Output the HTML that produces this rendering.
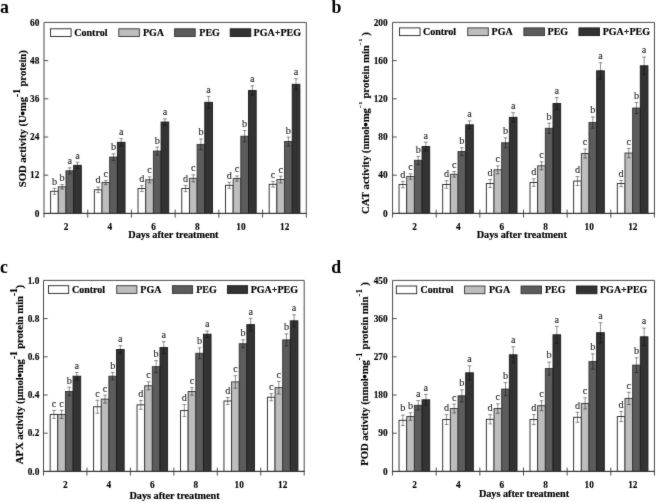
<!DOCTYPE html>
<html><head><meta charset="utf-8"><title>Figure</title>
<style>
html,body{margin:0;padding:0;background:#fff;}
body{width:656px;height:503px;overflow:hidden;}
svg{display:block;will-change:transform;}
text{font-family:"Liberation Serif",serif;fill:#000;}
.b{font-weight:bold;font-size:10px;stroke:#000;stroke-width:0.18px;}
.tk{font-weight:bold;font-size:9.3px;stroke:#000;stroke-width:0.12px;}
.yt{font-weight:bold;font-size:10.8px;stroke:#000;stroke-width:0.15px;}
.pl{font-weight:bold;font-size:17.8px;fill:#000;}
.lt{font-size:10.2px;text-anchor:middle;fill:#1c1c1c;stroke:#1c1c1c;stroke-width:0.1px;}
</style></head><body>
<svg width="656" height="503" viewBox="0 0 656 503">
<defs><filter id="sf" filterUnits="userSpaceOnUse" x="-10" y="-10" width="676" height="523" color-interpolation-filters="sRGB"><feConvolveMatrix order="3" kernelMatrix="1 2 1 2 28 2 1 2 1" divisor="40" edgeMode="duplicate" preserveAlpha="true"/></filter></defs>
<rect x="0" y="0" width="656" height="503" fill="#ffffff"/>
<g filter="url(#sf)">
<rect x="-10" y="-10" width="676" height="523" fill="#ffffff"/>
<g transform="translate(0,0)">
<rect x="50.6" y="191.3" width="7.68" height="22.1" fill="#ffffff" stroke="#222222" stroke-width="0.9"/>
<rect x="58.28" y="186.8" width="7.68" height="26.6" fill="#bdbdbd" stroke="#333333" stroke-width="0.9"/>
<rect x="65.96" y="170.8" width="7.68" height="42.6" fill="#5c5c5c" stroke="#333333" stroke-width="0.9"/>
<rect x="73.64" y="165.3" width="7.68" height="48.1" fill="#333333" stroke="#1a1a1a" stroke-width="0.9"/>
<path d="M54.44 188.3V194.3M52.54 188.3H56.34M52.54 194.3H56.34" stroke="#000" stroke-width="0.85" stroke-opacity="0.5" fill="none"/>
<text class="lt" x="54.44" y="184.7">b</text>
<path d="M62.12 184.55V189.05M60.22 184.55H64.02M60.22 189.05H64.02" stroke="#000" stroke-width="0.85" stroke-opacity="0.5" fill="none"/>
<text class="lt" x="62.12" y="180.95">b</text>
<path d="M69.8 167.8V173.8M67.9 167.8H71.7M67.9 173.8H71.7" stroke="#000" stroke-width="0.85" stroke-opacity="0.5" fill="none"/>
<text class="lt" x="69.8" y="164.2">a</text>
<path d="M77.48 162.2V168.4M75.58 162.2H79.38M75.58 168.4H79.38" stroke="#000" stroke-width="0.85" stroke-opacity="0.5" fill="none"/>
<text class="lt" x="77.48" y="158.6">a</text>
<rect x="94.32" y="189.8" width="7.68" height="23.6" fill="#ffffff" stroke="#222222" stroke-width="0.9"/>
<rect x="102" y="182.55" width="7.68" height="30.85" fill="#bdbdbd" stroke="#333333" stroke-width="0.9"/>
<rect x="109.67" y="157.05" width="7.68" height="56.35" fill="#5c5c5c" stroke="#333333" stroke-width="0.9"/>
<rect x="117.35" y="142.3" width="7.68" height="71.1" fill="#333333" stroke="#1a1a1a" stroke-width="0.9"/>
<path d="M98.16 187.05V192.55M96.26 187.05H100.06M96.26 192.55H100.06" stroke="#000" stroke-width="0.85" stroke-opacity="0.5" fill="none"/>
<text class="lt" x="98.16" y="183.45">d</text>
<path d="M105.84 180.45V184.65M103.94 180.45H107.74M103.94 184.65H107.74" stroke="#000" stroke-width="0.85" stroke-opacity="0.5" fill="none"/>
<text class="lt" x="105.84" y="176.85">c</text>
<path d="M113.51 153.8V160.3M111.61 153.8H115.41M111.61 160.3H115.41" stroke="#000" stroke-width="0.85" stroke-opacity="0.5" fill="none"/>
<text class="lt" x="113.51" y="150.2">b</text>
<path d="M121.19 138.7V145.9M119.29 138.7H123.09M119.29 145.9H123.09" stroke="#000" stroke-width="0.85" stroke-opacity="0.5" fill="none"/>
<text class="lt" x="121.19" y="135.1">a</text>
<rect x="138.03" y="188.55" width="7.68" height="24.85" fill="#ffffff" stroke="#222222" stroke-width="0.9"/>
<rect x="145.71" y="179.8" width="7.68" height="33.6" fill="#bdbdbd" stroke="#333333" stroke-width="0.9"/>
<rect x="153.39" y="151.05" width="7.68" height="62.35" fill="#5c5c5c" stroke="#333333" stroke-width="0.9"/>
<rect x="161.07" y="122.05" width="7.68" height="91.35" fill="#333333" stroke="#1a1a1a" stroke-width="0.9"/>
<path d="M141.87 185.65V191.45M139.97 185.65H143.77M139.97 191.45H143.77" stroke="#000" stroke-width="0.85" stroke-opacity="0.5" fill="none"/>
<text class="lt" x="141.87" y="182.05">d</text>
<path d="M149.55 176.8V182.8M147.65 176.8H151.45M147.65 182.8H151.45" stroke="#000" stroke-width="0.85" stroke-opacity="0.5" fill="none"/>
<text class="lt" x="149.55" y="173.2">c</text>
<path d="M157.23 147.15V154.95M155.33 147.15H159.13M155.33 154.95H159.13" stroke="#000" stroke-width="0.85" stroke-opacity="0.5" fill="none"/>
<text class="lt" x="157.23" y="143.55">b</text>
<path d="M164.91 118.8V125.3M163.01 118.8H166.81M163.01 125.3H166.81" stroke="#000" stroke-width="0.85" stroke-opacity="0.5" fill="none"/>
<text class="lt" x="164.91" y="115.2">a</text>
<rect x="181.75" y="188.55" width="7.68" height="24.85" fill="#ffffff" stroke="#222222" stroke-width="0.9"/>
<rect x="189.43" y="178.3" width="7.68" height="35.1" fill="#bdbdbd" stroke="#333333" stroke-width="0.9"/>
<rect x="197.11" y="144.4" width="7.68" height="69" fill="#5c5c5c" stroke="#333333" stroke-width="0.9"/>
<rect x="204.79" y="102.3" width="7.68" height="111.1" fill="#333333" stroke="#1a1a1a" stroke-width="0.9"/>
<path d="M185.59 185.45V191.65M183.69 185.45H187.49M183.69 191.65H187.49" stroke="#000" stroke-width="0.85" stroke-opacity="0.5" fill="none"/>
<text class="lt" x="185.59" y="181.85">d</text>
<path d="M193.27 174.8V181.8M191.37 174.8H195.17M191.37 181.8H195.17" stroke="#000" stroke-width="0.85" stroke-opacity="0.5" fill="none"/>
<text class="lt" x="193.27" y="171.2">c</text>
<path d="M200.95 139V149.8M199.05 139H202.85M199.05 149.8H202.85" stroke="#000" stroke-width="0.85" stroke-opacity="0.5" fill="none"/>
<text class="lt" x="200.95" y="135.4">b</text>
<path d="M208.63 96.4V108.2M206.73 96.4H210.53M206.73 108.2H210.53" stroke="#000" stroke-width="0.85" stroke-opacity="0.5" fill="none"/>
<text class="lt" x="208.63" y="92.8">a</text>
<rect x="225.47" y="185.3" width="7.68" height="28.1" fill="#ffffff" stroke="#222222" stroke-width="0.9"/>
<rect x="233.15" y="178.55" width="7.68" height="34.85" fill="#bdbdbd" stroke="#333333" stroke-width="0.9"/>
<rect x="240.83" y="136.2" width="7.68" height="77.2" fill="#5c5c5c" stroke="#333333" stroke-width="0.9"/>
<rect x="248.5" y="90.55" width="7.68" height="122.85" fill="#333333" stroke="#1a1a1a" stroke-width="0.9"/>
<path d="M229.31 182.3V188.3M227.41 182.3H231.21M227.41 188.3H231.21" stroke="#000" stroke-width="0.85" stroke-opacity="0.5" fill="none"/>
<text class="lt" x="229.31" y="178.7">d</text>
<path d="M236.99 175.95V181.15M235.09 175.95H238.89M235.09 181.15H238.89" stroke="#000" stroke-width="0.85" stroke-opacity="0.5" fill="none"/>
<text class="lt" x="236.99" y="172.35">c</text>
<path d="M244.66 130.5V141.9M242.76 130.5H246.56M242.76 141.9H246.56" stroke="#000" stroke-width="0.85" stroke-opacity="0.5" fill="none"/>
<text class="lt" x="244.66" y="126.9">b</text>
<path d="M252.34 85.8V95.3M250.44 85.8H254.24M250.44 95.3H254.24" stroke="#000" stroke-width="0.85" stroke-opacity="0.5" fill="none"/>
<text class="lt" x="252.34" y="82.2">a</text>
<rect x="269.18" y="184.3" width="7.68" height="29.1" fill="#ffffff" stroke="#222222" stroke-width="0.9"/>
<rect x="276.86" y="179.55" width="7.68" height="33.85" fill="#bdbdbd" stroke="#333333" stroke-width="0.9"/>
<rect x="284.54" y="141.55" width="7.68" height="71.85" fill="#5c5c5c" stroke="#333333" stroke-width="0.9"/>
<rect x="292.22" y="84.3" width="7.68" height="129.1" fill="#333333" stroke="#1a1a1a" stroke-width="0.9"/>
<path d="M273.02 181.4V187.2M271.12 181.4H274.92M271.12 187.2H274.92" stroke="#000" stroke-width="0.85" stroke-opacity="0.5" fill="none"/>
<text class="lt" x="273.02" y="177.8">c</text>
<path d="M280.7 176.15V182.95M278.8 176.15H282.6M278.8 182.95H282.6" stroke="#000" stroke-width="0.85" stroke-opacity="0.5" fill="none"/>
<text class="lt" x="280.7" y="172.55">c</text>
<path d="M288.38 137.15V145.95M286.48 137.15H290.28M286.48 145.95H290.28" stroke="#000" stroke-width="0.85" stroke-opacity="0.5" fill="none"/>
<text class="lt" x="288.38" y="133.55">b</text>
<path d="M296.06 78.7V89.9M294.16 78.7H297.96M294.16 89.9H297.96" stroke="#000" stroke-width="0.85" stroke-opacity="0.5" fill="none"/>
<text class="lt" x="296.06" y="75.1">a</text>
<path d="M44 22.4H306.3V213.4H44Z" fill="none" stroke="#4a4a4a" stroke-width="1"/>
<path d="M43.5 213.4H306.8" fill="none" stroke="#333" stroke-width="1"/>
<path d="M44 213.4V217.6M87.72 209.6V217.6M131.43 209.6V217.6M175.15 209.6V217.6M218.87 209.6V217.6M262.58 209.6V217.6M306.3 213.4V217.6M44 175.2H48.2M44 137H48.2M44 98.8H48.2M44 60.6H48.2" fill="none" stroke="#3a3a3a" stroke-width="0.9"/>
<text class="tk" text-anchor="end" x="39.4" y="216.65">0</text>
<text class="tk" text-anchor="end" x="39.4" y="178.45">12</text>
<text class="tk" text-anchor="end" x="39.4" y="140.25">24</text>
<text class="tk" text-anchor="end" x="39.4" y="102.05">36</text>
<text class="tk" text-anchor="end" x="39.4" y="63.85">48</text>
<text class="tk" text-anchor="end" x="39.4" y="25.65">60</text>
<text class="tk" text-anchor="middle" x="66.06" y="229.6">2</text>
<text class="tk" text-anchor="middle" x="109.78" y="229.6">4</text>
<text class="tk" text-anchor="middle" x="153.49" y="229.6">6</text>
<text class="tk" text-anchor="middle" x="197.21" y="229.6">8</text>
<text class="tk" text-anchor="middle" x="240.93" y="229.6">10</text>
<text class="tk" text-anchor="middle" x="284.64" y="229.6">12</text>
<text class="b" style="font-size:10.2px" text-anchor="middle" x="173.4" y="237.5">Days after treatment</text>
<rect x="50.5" y="28.8" width="20.6" height="7.7" fill="#ffffff" stroke="#222222" stroke-width="0.9"/>
<text class="b" x="74.3" y="35.9">Control</text>
<rect x="118.8" y="28.8" width="20.6" height="7.7" fill="#bdbdbd" stroke="#333333" stroke-width="0.9"/>
<text class="b" x="142.9" y="35.9">PGA</text>
<rect x="174.6" y="28.8" width="20.6" height="7.7" fill="#5c5c5c" stroke="#333333" stroke-width="0.9"/>
<text class="b" x="199.3" y="35.9">PEG</text>
<rect x="230.2" y="28.8" width="20.6" height="7.7" fill="#333333" stroke="#1a1a1a" stroke-width="0.9"/>
<text class="b" x="253.6" y="35.9">PGA+PEG</text>
<text class="pl" x="-0.1" y="12.8">a</text>
<text class="yt" text-anchor="middle" textLength="137.2" lengthAdjust="spacing" transform="translate(26,118.7) rotate(-90)"><tspan dy="-0">SOD activity (U</tspan><tspan dy="1.05" dx="-0.5" style="font-size:13.5px">•</tspan><tspan dx="-0.5" dy="0"></tspan><tspan dy="-1.05">mg</tspan><tspan dy="-6.2" style="font-size:9.5px;letter-spacing:0px">-1</tspan><tspan dy="6.2"> protein)</tspan></text>
</g>
<g transform="translate(348.7,0)">
<rect x="50.34" y="184.55" width="7.67" height="28.85" fill="#ffffff" stroke="#222222" stroke-width="0.9"/>
<rect x="58.01" y="176.55" width="7.67" height="36.85" fill="#bdbdbd" stroke="#333333" stroke-width="0.9"/>
<rect x="65.67" y="160.3" width="7.67" height="53.1" fill="#5c5c5c" stroke="#333333" stroke-width="0.9"/>
<rect x="73.34" y="146.55" width="7.67" height="66.85" fill="#333333" stroke="#1a1a1a" stroke-width="0.9"/>
<path d="M54.17 181.3V187.8M52.27 181.3H56.07M52.27 187.8H56.07" stroke="#000" stroke-width="0.85" stroke-opacity="0.5" fill="none"/>
<text class="lt" x="54.17" y="177.7">d</text>
<path d="M61.84 173.8V179.3M59.94 173.8H63.74M59.94 179.3H63.74" stroke="#000" stroke-width="0.85" stroke-opacity="0.5" fill="none"/>
<text class="lt" x="61.84" y="170.2">c</text>
<path d="M69.51 156.3V164.3M67.61 156.3H71.41M67.61 164.3H71.41" stroke="#000" stroke-width="0.85" stroke-opacity="0.5" fill="none"/>
<text class="lt" x="69.51" y="152.7">b</text>
<path d="M77.18 142.15V150.95M75.28 142.15H79.08M75.28 150.95H79.08" stroke="#000" stroke-width="0.85" stroke-opacity="0.5" fill="none"/>
<text class="lt" x="77.18" y="138.55">a</text>
<rect x="93.99" y="184.5" width="7.67" height="28.9" fill="#ffffff" stroke="#222222" stroke-width="0.9"/>
<rect x="101.66" y="174.3" width="7.67" height="39.1" fill="#bdbdbd" stroke="#333333" stroke-width="0.9"/>
<rect x="109.32" y="151.55" width="7.67" height="61.85" fill="#5c5c5c" stroke="#333333" stroke-width="0.9"/>
<rect x="116.99" y="124.8" width="7.67" height="88.6" fill="#333333" stroke="#1a1a1a" stroke-width="0.9"/>
<path d="M97.82 180.75V188.25M95.92 180.75H99.72M95.92 188.25H99.72" stroke="#000" stroke-width="0.85" stroke-opacity="0.5" fill="none"/>
<text class="lt" x="97.82" y="177.15">d</text>
<path d="M105.49 171.55V177.05M103.59 171.55H107.39M103.59 177.05H107.39" stroke="#000" stroke-width="0.85" stroke-opacity="0.5" fill="none"/>
<text class="lt" x="105.49" y="167.95">c</text>
<path d="M113.16 147.65V155.45M111.26 147.65H115.06M111.26 155.45H115.06" stroke="#000" stroke-width="0.85" stroke-opacity="0.5" fill="none"/>
<text class="lt" x="113.16" y="144.05">b</text>
<path d="M120.83 120.9V128.7M118.93 120.9H122.73M118.93 128.7H122.73" stroke="#000" stroke-width="0.85" stroke-opacity="0.5" fill="none"/>
<text class="lt" x="120.83" y="117.3">a</text>
<rect x="137.64" y="183.55" width="7.67" height="29.85" fill="#ffffff" stroke="#222222" stroke-width="0.9"/>
<rect x="145.31" y="169.8" width="7.67" height="43.6" fill="#bdbdbd" stroke="#333333" stroke-width="0.9"/>
<rect x="152.97" y="142.8" width="7.67" height="70.6" fill="#5c5c5c" stroke="#333333" stroke-width="0.9"/>
<rect x="160.64" y="117.3" width="7.67" height="96.1" fill="#333333" stroke="#1a1a1a" stroke-width="0.9"/>
<path d="M141.47 179.55V187.55M139.57 179.55H143.37M139.57 187.55H143.37" stroke="#000" stroke-width="0.85" stroke-opacity="0.5" fill="none"/>
<text class="lt" x="141.47" y="175.95">d</text>
<path d="M149.14 165.8V173.8M147.24 165.8H151.04M147.24 173.8H151.04" stroke="#000" stroke-width="0.85" stroke-opacity="0.5" fill="none"/>
<text class="lt" x="149.14" y="162.2">c</text>
<path d="M156.81 137.8V147.8M154.91 137.8H158.71M154.91 147.8H158.71" stroke="#000" stroke-width="0.85" stroke-opacity="0.5" fill="none"/>
<text class="lt" x="156.81" y="134.2">b</text>
<path d="M164.48 112.7V121.9M162.58 112.7H166.38M162.58 121.9H166.38" stroke="#000" stroke-width="0.85" stroke-opacity="0.5" fill="none"/>
<text class="lt" x="164.48" y="109.1">a</text>
<rect x="181.29" y="182.55" width="7.67" height="30.85" fill="#ffffff" stroke="#222222" stroke-width="0.9"/>
<rect x="188.96" y="165.8" width="7.67" height="47.6" fill="#bdbdbd" stroke="#333333" stroke-width="0.9"/>
<rect x="196.62" y="128.3" width="7.67" height="85.1" fill="#5c5c5c" stroke="#333333" stroke-width="0.9"/>
<rect x="204.29" y="103.55" width="7.67" height="109.85" fill="#333333" stroke="#1a1a1a" stroke-width="0.9"/>
<path d="M185.12 178.8V186.3M183.22 178.8H187.02M183.22 186.3H187.02" stroke="#000" stroke-width="0.85" stroke-opacity="0.5" fill="none"/>
<text class="lt" x="185.12" y="175.2">d</text>
<path d="M192.79 161.8V169.8M190.89 161.8H194.69M190.89 169.8H194.69" stroke="#000" stroke-width="0.85" stroke-opacity="0.5" fill="none"/>
<text class="lt" x="192.79" y="158.2">c</text>
<path d="M200.46 123.2V133.4M198.56 123.2H202.36M198.56 133.4H202.36" stroke="#000" stroke-width="0.85" stroke-opacity="0.5" fill="none"/>
<text class="lt" x="200.46" y="119.6">b</text>
<path d="M208.13 97.55V109.55M206.23 97.55H210.03M206.23 109.55H210.03" stroke="#000" stroke-width="0.85" stroke-opacity="0.5" fill="none"/>
<text class="lt" x="208.13" y="93.95">a</text>
<rect x="224.94" y="181.05" width="7.67" height="32.35" fill="#ffffff" stroke="#222222" stroke-width="0.9"/>
<rect x="232.61" y="153.55" width="7.67" height="59.85" fill="#bdbdbd" stroke="#333333" stroke-width="0.9"/>
<rect x="240.27" y="122.55" width="7.67" height="90.85" fill="#5c5c5c" stroke="#333333" stroke-width="0.9"/>
<rect x="247.94" y="70.8" width="7.67" height="142.6" fill="#333333" stroke="#1a1a1a" stroke-width="0.9"/>
<path d="M228.77 176.55V185.55M226.87 176.55H230.67M226.87 185.55H230.67" stroke="#000" stroke-width="0.85" stroke-opacity="0.5" fill="none"/>
<text class="lt" x="228.77" y="172.95">d</text>
<path d="M236.44 148.95V158.15M234.54 148.95H238.34M234.54 158.15H238.34" stroke="#000" stroke-width="0.85" stroke-opacity="0.5" fill="none"/>
<text class="lt" x="236.44" y="145.35">c</text>
<path d="M244.11 116.95V128.15M242.21 116.95H246.01M242.21 128.15H246.01" stroke="#000" stroke-width="0.85" stroke-opacity="0.5" fill="none"/>
<text class="lt" x="244.11" y="113.35">b</text>
<path d="M251.78 62.7V78.9M249.88 62.7H253.68M249.88 78.9H253.68" stroke="#000" stroke-width="0.85" stroke-opacity="0.5" fill="none"/>
<text class="lt" x="251.78" y="59.1">a</text>
<rect x="268.59" y="183.55" width="7.67" height="29.85" fill="#ffffff" stroke="#222222" stroke-width="0.9"/>
<rect x="276.26" y="153.05" width="7.67" height="60.35" fill="#bdbdbd" stroke="#333333" stroke-width="0.9"/>
<rect x="283.93" y="108.05" width="7.67" height="105.35" fill="#5c5c5c" stroke="#333333" stroke-width="0.9"/>
<rect x="291.59" y="65.8" width="7.67" height="147.6" fill="#333333" stroke="#1a1a1a" stroke-width="0.9"/>
<path d="M272.42 180.45V186.65M270.52 180.45H274.32M270.52 186.65H274.32" stroke="#000" stroke-width="0.85" stroke-opacity="0.5" fill="none"/>
<text class="lt" x="272.42" y="176.85">d</text>
<path d="M280.09 148.45V157.65M278.19 148.45H281.99M278.19 157.65H281.99" stroke="#000" stroke-width="0.85" stroke-opacity="0.5" fill="none"/>
<text class="lt" x="280.09" y="144.85">c</text>
<path d="M287.76 102.55V113.55M285.86 102.55H289.66M285.86 113.55H289.66" stroke="#000" stroke-width="0.85" stroke-opacity="0.5" fill="none"/>
<text class="lt" x="287.76" y="98.95">b</text>
<path d="M295.43 57.05V74.55M293.53 57.05H297.33M293.53 74.55H297.33" stroke="#000" stroke-width="0.85" stroke-opacity="0.5" fill="none"/>
<text class="lt" x="295.43" y="53.45">a</text>
<path d="M43.85 22.4H305.75V213.4H43.85Z" fill="none" stroke="#4a4a4a" stroke-width="1"/>
<path d="M43.35 213.4H306.25" fill="none" stroke="#333" stroke-width="1"/>
<path d="M43.85 213.4V217.6M87.5 209.6V217.6M131.15 209.6V217.6M174.8 209.6V217.6M218.45 209.6V217.6M262.1 209.6V217.6M305.75 213.4V217.6M43.85 175.2H48.05M43.85 137H48.05M43.85 98.8H48.05M43.85 60.6H48.05" fill="none" stroke="#3a3a3a" stroke-width="0.9"/>
<text class="tk" text-anchor="end" x="38.9" y="216.65">0</text>
<text class="tk" text-anchor="end" x="38.9" y="178.45">40</text>
<text class="tk" text-anchor="end" x="38.9" y="140.25">80</text>
<text class="tk" text-anchor="end" x="38.9" y="102.05">120</text>
<text class="tk" text-anchor="end" x="38.9" y="63.85">160</text>
<text class="tk" text-anchor="end" x="38.9" y="25.65">200</text>
<text class="tk" text-anchor="middle" x="65.88" y="229.6">2</text>
<text class="tk" text-anchor="middle" x="109.52" y="229.6">4</text>
<text class="tk" text-anchor="middle" x="153.17" y="229.6">6</text>
<text class="tk" text-anchor="middle" x="196.82" y="229.6">8</text>
<text class="tk" text-anchor="middle" x="240.47" y="229.6">10</text>
<text class="tk" text-anchor="middle" x="284.12" y="229.6">12</text>
<text class="b" style="font-size:10.2px" text-anchor="middle" x="173.1" y="238">Days after treatment</text>
<rect x="50.75" y="27.9" width="20.6" height="7.7" fill="#ffffff" stroke="#222222" stroke-width="0.9"/>
<text class="b" x="74.3" y="35">Control</text>
<rect x="119" y="27.9" width="20.6" height="7.7" fill="#bdbdbd" stroke="#333333" stroke-width="0.9"/>
<text class="b" x="142.9" y="35">PGA</text>
<rect x="175.2" y="27.9" width="20.6" height="7.7" fill="#5c5c5c" stroke="#333333" stroke-width="0.9"/>
<text class="b" x="198.9" y="35">PEG</text>
<rect x="230.25" y="27.9" width="20.6" height="7.7" fill="#333333" stroke="#1a1a1a" stroke-width="0.9"/>
<text class="b" x="254" y="35">PGA+PEG</text>
<text class="pl" x="-17.3" y="12.8">b</text>
<text class="yt" text-anchor="middle" textLength="181.8" lengthAdjust="spacing" transform="translate(20.1,123) rotate(-90)"><tspan dy="-0">CAT activity (nmol</tspan><tspan dy="1.05" dx="-0.5" style="font-size:13.5px">•</tspan><tspan dx="-0.5" dy="0"></tspan><tspan dy="-1.05">mg</tspan><tspan dy="-6.6" style="font-size:5px;letter-spacing:0.8px">−1</tspan><tspan dx="2" dy="0"></tspan><tspan dy="6.6"> protein min</tspan><tspan dy="-6.6" style="font-size:5px;letter-spacing:0.8px">−1</tspan><tspan dx="2" dy="0"></tspan><tspan dy="6.6"> )</tspan></text>
</g>
<g transform="translate(0,258)">
<rect x="50.16" y="156.4" width="7.63" height="57" fill="#ffffff" stroke="#222222" stroke-width="0.9"/>
<rect x="57.79" y="156.4" width="7.63" height="57" fill="#bdbdbd" stroke="#333333" stroke-width="0.9"/>
<rect x="65.42" y="133.48" width="7.63" height="79.92" fill="#5c5c5c" stroke="#333333" stroke-width="0.9"/>
<rect x="73.06" y="118.2" width="7.63" height="95.2" fill="#333333" stroke="#1a1a1a" stroke-width="0.9"/>
<path d="M53.98 152.4V160.4M52.08 152.4H55.88M52.08 160.4H55.88" stroke="#000" stroke-width="0.85" stroke-opacity="0.5" fill="none"/>
<text class="lt" x="53.98" y="148.8">c</text>
<path d="M61.61 152.4V160.4M59.71 152.4H63.51M59.71 160.4H63.51" stroke="#000" stroke-width="0.85" stroke-opacity="0.5" fill="none"/>
<text class="lt" x="61.61" y="148.8">c</text>
<path d="M69.24 129.23V137.73M67.34 129.23H71.14M67.34 137.73H71.14" stroke="#000" stroke-width="0.85" stroke-opacity="0.5" fill="none"/>
<text class="lt" x="69.24" y="125.63">b</text>
<path d="M76.87 114.45V121.95M74.97 114.45H78.77M74.97 121.95H78.77" stroke="#000" stroke-width="0.85" stroke-opacity="0.5" fill="none"/>
<text class="lt" x="76.87" y="110.85">a</text>
<rect x="93.61" y="148.76" width="7.63" height="64.64" fill="#ffffff" stroke="#222222" stroke-width="0.9"/>
<rect x="101.24" y="141.12" width="7.63" height="72.28" fill="#bdbdbd" stroke="#333333" stroke-width="0.9"/>
<rect x="108.88" y="118.2" width="7.63" height="95.2" fill="#5c5c5c" stroke="#333333" stroke-width="0.9"/>
<rect x="116.51" y="91.46" width="7.63" height="121.94" fill="#333333" stroke="#1a1a1a" stroke-width="0.9"/>
<path d="M97.43 142.26V155.26M95.53 142.26H99.33M95.53 155.26H99.33" stroke="#000" stroke-width="0.85" stroke-opacity="0.5" fill="none"/>
<text class="lt" x="97.43" y="138.66">c</text>
<path d="M105.06 137.12V145.12M103.16 137.12H106.96M103.16 145.12H106.96" stroke="#000" stroke-width="0.85" stroke-opacity="0.5" fill="none"/>
<text class="lt" x="105.06" y="133.52">c</text>
<path d="M112.69 114.45V121.95M110.79 114.45H114.59M110.79 121.95H114.59" stroke="#000" stroke-width="0.85" stroke-opacity="0.5" fill="none"/>
<text class="lt" x="112.69" y="110.85">b</text>
<path d="M120.32 87.66V95.26M118.42 87.66H122.22M118.42 95.26H122.22" stroke="#000" stroke-width="0.85" stroke-opacity="0.5" fill="none"/>
<text class="lt" x="120.32" y="84.06">a</text>
<rect x="137.06" y="146.85" width="7.63" height="66.55" fill="#ffffff" stroke="#222222" stroke-width="0.9"/>
<rect x="144.69" y="127.75" width="7.63" height="85.65" fill="#bdbdbd" stroke="#333333" stroke-width="0.9"/>
<rect x="152.32" y="108.65" width="7.63" height="104.75" fill="#5c5c5c" stroke="#333333" stroke-width="0.9"/>
<rect x="159.96" y="89.55" width="7.63" height="123.85" fill="#333333" stroke="#1a1a1a" stroke-width="0.9"/>
<path d="M140.88 142.45V151.25M138.98 142.45H142.78M138.98 151.25H142.78" stroke="#000" stroke-width="0.85" stroke-opacity="0.5" fill="none"/>
<text class="lt" x="140.88" y="138.85">d</text>
<path d="M148.51 123.75V131.75M146.61 123.75H150.41M146.61 131.75H150.41" stroke="#000" stroke-width="0.85" stroke-opacity="0.5" fill="none"/>
<text class="lt" x="148.51" y="120.15">c</text>
<path d="M156.14 102.65V114.65M154.24 102.65H158.04M154.24 114.65H158.04" stroke="#000" stroke-width="0.85" stroke-opacity="0.5" fill="none"/>
<text class="lt" x="156.14" y="99.05">b</text>
<path d="M163.77 83.55V95.55M161.87 83.55H165.67M161.87 95.55H165.67" stroke="#000" stroke-width="0.85" stroke-opacity="0.5" fill="none"/>
<text class="lt" x="163.77" y="79.95">a</text>
<rect x="180.51" y="152.58" width="7.63" height="60.82" fill="#ffffff" stroke="#222222" stroke-width="0.9"/>
<rect x="188.14" y="133.48" width="7.63" height="79.92" fill="#bdbdbd" stroke="#333333" stroke-width="0.9"/>
<rect x="195.77" y="95.28" width="7.63" height="118.12" fill="#5c5c5c" stroke="#333333" stroke-width="0.9"/>
<rect x="203.41" y="76.18" width="7.63" height="137.22" fill="#333333" stroke="#1a1a1a" stroke-width="0.9"/>
<path d="M184.33 146.58V158.58M182.43 146.58H186.23M182.43 158.58H186.23" stroke="#000" stroke-width="0.85" stroke-opacity="0.5" fill="none"/>
<text class="lt" x="184.33" y="142.98">d</text>
<path d="M191.96 129.73V137.23M190.06 129.73H193.86M190.06 137.23H193.86" stroke="#000" stroke-width="0.85" stroke-opacity="0.5" fill="none"/>
<text class="lt" x="191.96" y="126.13">c</text>
<path d="M199.59 89.78V100.78M197.69 89.78H201.49M197.69 100.78H201.49" stroke="#000" stroke-width="0.85" stroke-opacity="0.5" fill="none"/>
<text class="lt" x="199.59" y="86.18">b</text>
<path d="M207.22 72.93V79.43M205.32 72.93H209.12M205.32 79.43H209.12" stroke="#000" stroke-width="0.85" stroke-opacity="0.5" fill="none"/>
<text class="lt" x="207.22" y="69.33">a</text>
<rect x="223.96" y="143.03" width="7.63" height="70.37" fill="#ffffff" stroke="#222222" stroke-width="0.9"/>
<rect x="231.59" y="123.93" width="7.63" height="89.47" fill="#bdbdbd" stroke="#333333" stroke-width="0.9"/>
<rect x="239.22" y="85.73" width="7.63" height="127.67" fill="#5c5c5c" stroke="#333333" stroke-width="0.9"/>
<rect x="246.86" y="66.63" width="7.63" height="146.77" fill="#333333" stroke="#1a1a1a" stroke-width="0.9"/>
<path d="M227.78 139.43V146.63M225.88 139.43H229.68M225.88 146.63H229.68" stroke="#000" stroke-width="0.85" stroke-opacity="0.5" fill="none"/>
<text class="lt" x="227.78" y="135.83">d</text>
<path d="M235.41 117.68V130.18M233.51 117.68H237.31M233.51 130.18H237.31" stroke="#000" stroke-width="0.85" stroke-opacity="0.5" fill="none"/>
<text class="lt" x="235.41" y="114.08">c</text>
<path d="M243.04 81.83V89.63M241.14 81.83H244.94M241.14 89.63H244.94" stroke="#000" stroke-width="0.85" stroke-opacity="0.5" fill="none"/>
<text class="lt" x="243.04" y="78.23">b</text>
<path d="M250.67 60.38V72.88M248.77 60.38H252.57M248.77 72.88H252.57" stroke="#000" stroke-width="0.85" stroke-opacity="0.5" fill="none"/>
<text class="lt" x="250.67" y="56.78">a</text>
<rect x="267.41" y="139.21" width="7.63" height="74.19" fill="#ffffff" stroke="#222222" stroke-width="0.9"/>
<rect x="275.04" y="129.66" width="7.63" height="83.74" fill="#bdbdbd" stroke="#333333" stroke-width="0.9"/>
<rect x="282.67" y="81.91" width="7.63" height="131.49" fill="#5c5c5c" stroke="#333333" stroke-width="0.9"/>
<rect x="290.31" y="62.81" width="7.63" height="150.59" fill="#333333" stroke="#1a1a1a" stroke-width="0.9"/>
<path d="M271.23 135.61V142.81M269.33 135.61H273.13M269.33 142.81H273.13" stroke="#000" stroke-width="0.85" stroke-opacity="0.5" fill="none"/>
<text class="lt" x="271.23" y="132.01">c</text>
<path d="M278.86 123.41V135.91M276.96 123.41H280.76M276.96 135.91H280.76" stroke="#000" stroke-width="0.85" stroke-opacity="0.5" fill="none"/>
<text class="lt" x="278.86" y="119.81">c</text>
<path d="M286.49 75.91V87.91M284.59 75.91H288.39M284.59 87.91H288.39" stroke="#000" stroke-width="0.85" stroke-opacity="0.5" fill="none"/>
<text class="lt" x="286.49" y="72.31">b</text>
<path d="M294.12 56.81V68.81M292.22 56.81H296.02M292.22 68.81H296.02" stroke="#000" stroke-width="0.85" stroke-opacity="0.5" fill="none"/>
<text class="lt" x="294.12" y="53.21">a</text>
<path d="M43.5 22.4H304.2V213.4H43.5Z" fill="none" stroke="#4a4a4a" stroke-width="1"/>
<path d="M43 213.4H304.7" fill="none" stroke="#333" stroke-width="1"/>
<path d="M43.5 213.4V217.6M86.95 209.6V217.6M130.4 209.6V217.6M173.85 209.6V217.6M217.3 209.6V217.6M260.75 209.6V217.6M304.2 213.4V217.6M43.5 175.2H47.7M43.5 137H47.7M43.5 98.8H47.7M43.5 60.6H47.7" fill="none" stroke="#3a3a3a" stroke-width="0.9"/>
<text class="tk" text-anchor="end" x="39.3" y="216.65">0.0</text>
<text class="tk" text-anchor="end" x="39.3" y="178.45">0.2</text>
<text class="tk" text-anchor="end" x="39.3" y="140.25">0.4</text>
<text class="tk" text-anchor="end" x="39.3" y="102.05">0.6</text>
<text class="tk" text-anchor="end" x="39.3" y="63.85">0.8</text>
<text class="tk" text-anchor="end" x="39.3" y="25.65">1.0</text>
<text class="tk" text-anchor="middle" x="65.42" y="229.6">2</text>
<text class="tk" text-anchor="middle" x="108.88" y="229.6">4</text>
<text class="tk" text-anchor="middle" x="152.32" y="229.6">6</text>
<text class="tk" text-anchor="middle" x="195.77" y="229.6">8</text>
<text class="tk" text-anchor="middle" x="239.22" y="229.6">10</text>
<text class="tk" text-anchor="middle" x="282.67" y="229.6">12</text>
<text class="b" style="font-size:10.2px" text-anchor="middle" x="174.6" y="241.3">Days after treatment</text>
<rect x="48.5" y="27.7" width="20.2" height="7.7" fill="#ffffff" stroke="#222222" stroke-width="0.9"/>
<text class="b" x="72" y="34.8">Control</text>
<rect x="116.7" y="27.7" width="20.2" height="7.7" fill="#bdbdbd" stroke="#333333" stroke-width="0.9"/>
<text class="b" x="140.3" y="34.8">PGA</text>
<rect x="172.4" y="27.7" width="20.2" height="7.7" fill="#5c5c5c" stroke="#333333" stroke-width="0.9"/>
<text class="b" x="196.2" y="34.8">PEG</text>
<rect x="227.4" y="27.7" width="20.2" height="7.7" fill="#333333" stroke="#1a1a1a" stroke-width="0.9"/>
<text class="b" x="250.7" y="34.8">PGA+PEG</text>
<text class="pl" x="0.1" y="14.9">c</text>
<text class="yt" text-anchor="middle" textLength="179.4" lengthAdjust="spacing" transform="translate(23.2,116.5) rotate(-90)"><tspan dy="-0">APX activity (µmol</tspan><tspan dy="1.05" dx="-0.5" style="font-size:13.5px">•</tspan><tspan dx="-0.5" dy="0"></tspan><tspan dy="-1.05">mg</tspan><tspan dy="-5.75" style="font-size:9.5px;letter-spacing:0px">-1</tspan><tspan dy="5.75"> protein min</tspan><tspan dy="-5.75" style="font-size:9.5px;letter-spacing:0px">-1</tspan><tspan dy="5.75">)</tspan></text>
</g>
<g transform="translate(348.7,258)">
<rect x="50.34" y="162.3" width="7.67" height="51.1" fill="#ffffff" stroke="#222222" stroke-width="0.9"/>
<rect x="58.01" y="158.55" width="7.67" height="54.85" fill="#bdbdbd" stroke="#333333" stroke-width="0.9"/>
<rect x="65.67" y="147.3" width="7.67" height="66.1" fill="#5c5c5c" stroke="#333333" stroke-width="0.9"/>
<rect x="73.34" y="141.8" width="7.67" height="71.6" fill="#333333" stroke="#1a1a1a" stroke-width="0.9"/>
<path d="M54.17 157.05V167.55M52.27 157.05H56.07M52.27 167.55H56.07" stroke="#000" stroke-width="0.85" stroke-opacity="0.5" fill="none"/>
<text class="lt" x="54.17" y="153.45">b</text>
<path d="M61.84 154.8V162.3M59.94 154.8H63.74M59.94 162.3H63.74" stroke="#000" stroke-width="0.85" stroke-opacity="0.5" fill="none"/>
<text class="lt" x="61.84" y="151.2">b</text>
<path d="M69.51 142.55V152.05M67.61 142.55H71.41M67.61 152.05H71.41" stroke="#000" stroke-width="0.85" stroke-opacity="0.5" fill="none"/>
<text class="lt" x="69.51" y="138.95">a</text>
<path d="M77.18 136.4V147.2M75.28 136.4H79.08M75.28 147.2H79.08" stroke="#000" stroke-width="0.85" stroke-opacity="0.5" fill="none"/>
<text class="lt" x="77.18" y="132.8">a</text>
<rect x="93.99" y="161.55" width="7.67" height="51.85" fill="#ffffff" stroke="#222222" stroke-width="0.9"/>
<rect x="101.66" y="150.55" width="7.67" height="62.85" fill="#bdbdbd" stroke="#333333" stroke-width="0.9"/>
<rect x="109.32" y="137.8" width="7.67" height="75.6" fill="#5c5c5c" stroke="#333333" stroke-width="0.9"/>
<rect x="116.99" y="114.8" width="7.67" height="98.6" fill="#333333" stroke="#1a1a1a" stroke-width="0.9"/>
<path d="M97.82 156.55V166.55M95.92 156.55H99.72M95.92 166.55H99.72" stroke="#000" stroke-width="0.85" stroke-opacity="0.5" fill="none"/>
<text class="lt" x="97.82" y="152.95">d</text>
<path d="M105.49 146.15V154.95M103.59 146.15H107.39M103.59 154.95H107.39" stroke="#000" stroke-width="0.85" stroke-opacity="0.5" fill="none"/>
<text class="lt" x="105.49" y="142.55">c</text>
<path d="M113.16 131.8V143.8M111.26 131.8H115.06M111.26 143.8H115.06" stroke="#000" stroke-width="0.85" stroke-opacity="0.5" fill="none"/>
<text class="lt" x="113.16" y="128.2">b</text>
<path d="M120.83 107.8V121.8M118.93 107.8H122.73M118.93 121.8H122.73" stroke="#000" stroke-width="0.85" stroke-opacity="0.5" fill="none"/>
<text class="lt" x="120.83" y="104.2">a</text>
<rect x="137.64" y="161.3" width="7.67" height="52.1" fill="#ffffff" stroke="#222222" stroke-width="0.9"/>
<rect x="145.31" y="150.55" width="7.67" height="62.85" fill="#bdbdbd" stroke="#333333" stroke-width="0.9"/>
<rect x="152.97" y="131.05" width="7.67" height="82.35" fill="#5c5c5c" stroke="#333333" stroke-width="0.9"/>
<rect x="160.64" y="96.8" width="7.67" height="116.6" fill="#333333" stroke="#1a1a1a" stroke-width="0.9"/>
<path d="M141.47 156.7V165.9M139.57 156.7H143.37M139.57 165.9H143.37" stroke="#000" stroke-width="0.85" stroke-opacity="0.5" fill="none"/>
<text class="lt" x="141.47" y="153.1">d</text>
<path d="M149.14 145.8V155.3M147.24 145.8H151.04M147.24 155.3H151.04" stroke="#000" stroke-width="0.85" stroke-opacity="0.5" fill="none"/>
<text class="lt" x="149.14" y="142.2">c</text>
<path d="M156.81 124.55V137.55M154.91 124.55H158.71M154.91 137.55H158.71" stroke="#000" stroke-width="0.85" stroke-opacity="0.5" fill="none"/>
<text class="lt" x="156.81" y="120.95">b</text>
<path d="M164.48 88.8V104.8M162.58 88.8H166.38M162.58 104.8H166.38" stroke="#000" stroke-width="0.85" stroke-opacity="0.5" fill="none"/>
<text class="lt" x="164.48" y="85.2">a</text>
<rect x="181.29" y="161.55" width="7.67" height="51.85" fill="#ffffff" stroke="#222222" stroke-width="0.9"/>
<rect x="188.96" y="147.7" width="7.67" height="65.7" fill="#bdbdbd" stroke="#333333" stroke-width="0.9"/>
<rect x="196.62" y="110.55" width="7.67" height="102.85" fill="#5c5c5c" stroke="#333333" stroke-width="0.9"/>
<rect x="204.29" y="76.8" width="7.67" height="136.6" fill="#333333" stroke="#1a1a1a" stroke-width="0.9"/>
<path d="M185.12 156.55V166.55M183.22 156.55H187.02M183.22 166.55H187.02" stroke="#000" stroke-width="0.85" stroke-opacity="0.5" fill="none"/>
<text class="lt" x="185.12" y="152.95">d</text>
<path d="M192.79 142.7V152.7M190.89 142.7H194.69M190.89 152.7H194.69" stroke="#000" stroke-width="0.85" stroke-opacity="0.5" fill="none"/>
<text class="lt" x="192.79" y="139.1">c</text>
<path d="M200.46 104.05V117.05M198.56 104.05H202.36M198.56 117.05H202.36" stroke="#000" stroke-width="0.85" stroke-opacity="0.5" fill="none"/>
<text class="lt" x="200.46" y="100.45">b</text>
<path d="M208.13 68.4V85.2M206.23 68.4H210.03M206.23 85.2H210.03" stroke="#000" stroke-width="0.85" stroke-opacity="0.5" fill="none"/>
<text class="lt" x="208.13" y="64.8">a</text>
<rect x="224.94" y="159.3" width="7.67" height="54.1" fill="#ffffff" stroke="#222222" stroke-width="0.9"/>
<rect x="232.61" y="145.4" width="7.67" height="68" fill="#bdbdbd" stroke="#333333" stroke-width="0.9"/>
<rect x="240.27" y="103.55" width="7.67" height="109.85" fill="#5c5c5c" stroke="#333333" stroke-width="0.9"/>
<rect x="247.94" y="74.7" width="7.67" height="138.7" fill="#333333" stroke="#1a1a1a" stroke-width="0.9"/>
<path d="M228.77 154.3V164.3M226.87 154.3H230.67M226.87 164.3H230.67" stroke="#000" stroke-width="0.85" stroke-opacity="0.5" fill="none"/>
<text class="lt" x="228.77" y="150.7">d</text>
<path d="M236.44 139.8V151M234.54 139.8H238.34M234.54 151H238.34" stroke="#000" stroke-width="0.85" stroke-opacity="0.5" fill="none"/>
<text class="lt" x="236.44" y="136.2">c</text>
<path d="M244.11 95.8V111.3M242.21 95.8H246.01M242.21 111.3H246.01" stroke="#000" stroke-width="0.85" stroke-opacity="0.5" fill="none"/>
<text class="lt" x="244.11" y="92.2">b</text>
<path d="M251.78 64.7V84.7M249.88 64.7H253.68M249.88 84.7H253.68" stroke="#000" stroke-width="0.85" stroke-opacity="0.5" fill="none"/>
<text class="lt" x="251.78" y="61.1">a</text>
<rect x="268.59" y="158.55" width="7.67" height="54.85" fill="#ffffff" stroke="#222222" stroke-width="0.9"/>
<rect x="276.26" y="140.4" width="7.67" height="73" fill="#bdbdbd" stroke="#333333" stroke-width="0.9"/>
<rect x="283.93" y="107.1" width="7.67" height="106.3" fill="#5c5c5c" stroke="#333333" stroke-width="0.9"/>
<rect x="291.59" y="78.8" width="7.67" height="134.6" fill="#333333" stroke="#1a1a1a" stroke-width="0.9"/>
<path d="M272.42 153.55V163.55M270.52 153.55H274.32M270.52 163.55H274.32" stroke="#000" stroke-width="0.85" stroke-opacity="0.5" fill="none"/>
<text class="lt" x="272.42" y="149.95">d</text>
<path d="M280.09 134.3V146.5M278.19 134.3H281.99M278.19 146.5H281.99" stroke="#000" stroke-width="0.85" stroke-opacity="0.5" fill="none"/>
<text class="lt" x="280.09" y="130.7">c</text>
<path d="M287.76 99.7V114.5M285.86 99.7H289.66M285.86 114.5H289.66" stroke="#000" stroke-width="0.85" stroke-opacity="0.5" fill="none"/>
<text class="lt" x="287.76" y="96.1">b</text>
<path d="M295.43 70.05V87.55M293.53 70.05H297.33M293.53 87.55H297.33" stroke="#000" stroke-width="0.85" stroke-opacity="0.5" fill="none"/>
<text class="lt" x="295.43" y="66.45">a</text>
<path d="M43.85 22.4H305.75V213.4H43.85Z" fill="none" stroke="#4a4a4a" stroke-width="1"/>
<path d="M43.35 213.4H306.25" fill="none" stroke="#333" stroke-width="1"/>
<path d="M43.85 213.4V217.6M87.5 209.6V217.6M131.15 209.6V217.6M174.8 209.6V217.6M218.45 209.6V217.6M262.1 209.6V217.6M305.75 213.4V217.6M43.85 175.2H48.05M43.85 137H48.05M43.85 98.8H48.05M43.85 60.6H48.05" fill="none" stroke="#3a3a3a" stroke-width="0.9"/>
<text class="tk" text-anchor="end" x="38.9" y="216.65">0</text>
<text class="tk" text-anchor="end" x="38.9" y="178.45">90</text>
<text class="tk" text-anchor="end" x="38.9" y="140.25">180</text>
<text class="tk" text-anchor="end" x="38.9" y="102.05">270</text>
<text class="tk" text-anchor="end" x="38.9" y="63.85">360</text>
<text class="tk" text-anchor="end" x="38.9" y="25.65">450</text>
<text class="tk" text-anchor="middle" x="65.88" y="229.6">2</text>
<text class="tk" text-anchor="middle" x="109.52" y="229.6">4</text>
<text class="tk" text-anchor="middle" x="153.17" y="229.6">6</text>
<text class="tk" text-anchor="middle" x="196.82" y="229.6">8</text>
<text class="tk" text-anchor="middle" x="240.47" y="229.6">10</text>
<text class="tk" text-anchor="middle" x="284.12" y="229.6">12</text>
<text class="b" style="font-size:10.2px" text-anchor="middle" x="175.3" y="238.5">Days after treatment</text>
<rect x="47.6" y="28" width="20.4" height="7.7" fill="#ffffff" stroke="#222222" stroke-width="0.9"/>
<text class="b" x="71.8" y="35.1">Control</text>
<rect x="115.85" y="28" width="20.4" height="7.7" fill="#bdbdbd" stroke="#333333" stroke-width="0.9"/>
<text class="b" x="140.3" y="35.1">PGA</text>
<rect x="172.35" y="28" width="20.4" height="7.7" fill="#5c5c5c" stroke="#333333" stroke-width="0.9"/>
<text class="b" x="196.3" y="35.1">PEG</text>
<rect x="227.85" y="28" width="20.4" height="7.7" fill="#333333" stroke="#1a1a1a" stroke-width="0.9"/>
<text class="b" x="251.3" y="35.1">PGA+PEG</text>
<text class="pl" x="-17.4" y="14.6">d</text>
<text class="yt" text-anchor="middle" textLength="183.5" lengthAdjust="spacing" transform="translate(19.6,115.95) rotate(-90)"><tspan dy="-0">POD activity (nmol</tspan><tspan dy="1.05" dx="-0.5" style="font-size:13.5px">•</tspan><tspan dx="-0.5" dy="0"></tspan><tspan dy="-1.05">mg</tspan><tspan dy="-6.1" style="font-size:8px;letter-spacing:0.9px">-1</tspan><tspan dx="0.5" dy="0"></tspan><tspan dy="6.1"> protein min</tspan><tspan dy="-6.1" style="font-size:8px;letter-spacing:0.9px">-1</tspan><tspan dx="0.5" dy="0"></tspan><tspan dy="6.1"> )</tspan></text>
</g>
</g>
</svg>
</body></html>
